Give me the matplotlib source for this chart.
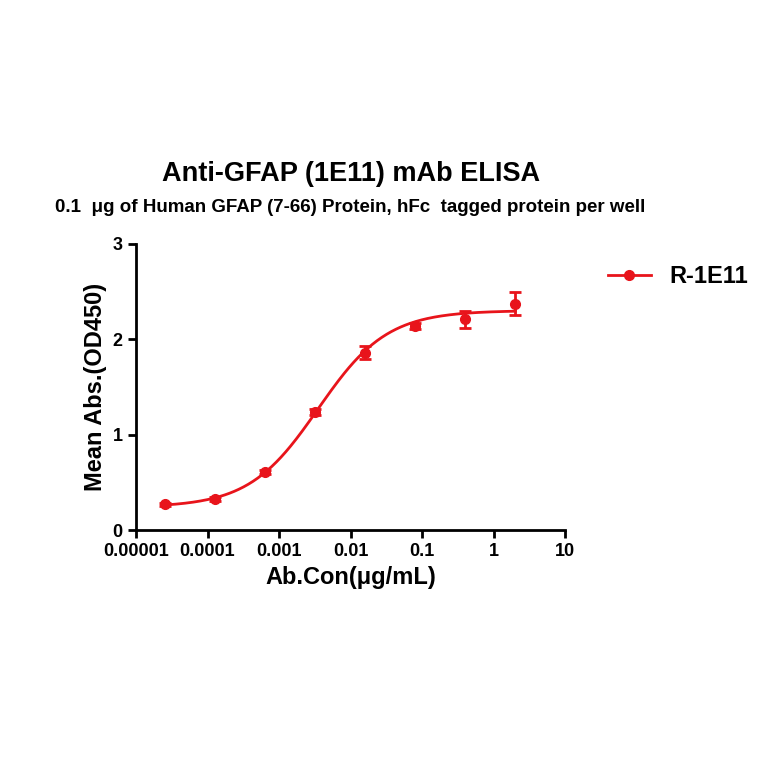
import numpy as np
import matplotlib
matplotlib.use("Agg")
import matplotlib.pyplot as plt

plt.rcParams['font.family'] = ['Liberation Sans', 'DejaVu Sans']
plt.rcParams['font.weight'] = 'bold'

conc = [2.56e-5, 1.28e-4, 6.4e-4, 3.2e-3, 0.016, 0.08, 0.4, 2.0]
od = [0.27, 0.33, 0.61, 1.24, 1.86, 2.14, 2.21, 2.37]
err = [0.02, 0.02, 0.02, 0.03, 0.07, 0.03, 0.09, 0.12]

# 4PL fit parameters
bottom, top, ec50, hill = 0.24, 2.30, 0.0035, 0.9

red = "#e8141b"
fig = plt.figure(figsize=(7.64, 7.64), dpi=100)
ax = fig.add_axes([0.178, 0.306, 0.562, 0.375])

xs = np.logspace(np.log10(conc[0]), np.log10(conc[-1]), 300)
ys = bottom + (top - bottom) / (1 + (ec50 / xs) ** hill)
ax.plot(xs, ys, color=red, lw=2)
ax.errorbar(conc, od, yerr=err, fmt='o', color=red, ms=7, capsize=4,
            elinewidth=2, capthick=2)
ax.plot([], [], '-o', color=red, lw=2, ms=7, label='R-1E11')

ax.set_xscale('log')
ax.set_xlim(1e-5, 10)
ax.set_ylim(0, 3)
ax.set_xticks([1e-5, 1e-4, 1e-3, 1e-2, 1e-1, 1, 10])
ax.set_xticklabels(['0.00001', '0.0001', '0.001', '0.01', '0.1', '1', '10'])
ax.xaxis.set_minor_locator(matplotlib.ticker.NullLocator())
ax.set_yticks([0, 1, 2, 3])
for s in ['top', 'right']:
    ax.spines[s].set_visible(False)
for s in ['left', 'bottom']:
    ax.spines[s].set_linewidth(2)
ax.tick_params(width=2, length=6, labelsize=13)
ax.set_xlabel('Ab.Con(μg/mL)', fontsize=17, fontweight='bold')
ax.set_ylabel('Mean Abs.(OD450)', fontsize=17, fontweight='bold')

fig.text(0.459, 0.763, 'Anti-GFAP (1E11) mAb ELISA', ha='center', fontsize=19.5, fontweight='bold')
fig.text(0.459, 0.722, '0.1  μg of Human GFAP (7-66) Protein, hFc  tagged protein per well',
         ha='center', fontsize=13.5, fontweight='bold')
ax.legend(loc='upper left', bbox_to_anchor=(1.05, 1.0), frameon=False,
          fontsize=17, handlelength=1.8)

fig.savefig('out.png', dpi=100)
